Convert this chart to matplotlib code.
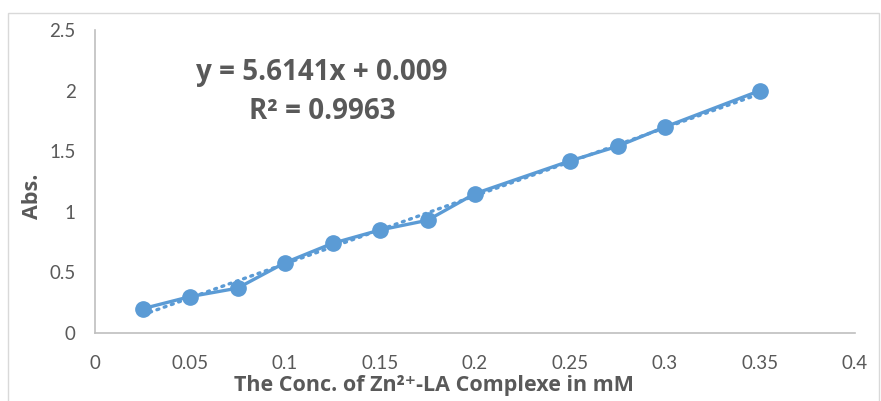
import matplotlib.pyplot as plt
from matplotlib.patches import Rectangle

# Absorbance vs. concentration of the Zn2+-LA complex
conc_mM = [0.025, 0.05, 0.075, 0.1, 0.125, 0.15, 0.175, 0.2, 0.25, 0.275, 0.3, 0.35]
absorbance = [0.20, 0.30, 0.37, 0.58, 0.74, 0.85, 0.93, 1.15, 1.42, 1.54, 1.70, 2.00]

slope = 5.6141
intercept = 0.009
r_squared = 0.9963

x_ticks = [0, 0.05, 0.1, 0.15, 0.2, 0.25, 0.3, 0.35, 0.4]
x_tick_labels = ['0', '0.05', '0.1', '0.15', '0.2', '0.25', '0.3', '0.35', '0.4']
y_ticks = [0, 0.5, 1, 1.5, 2, 2.5]
y_tick_labels = ['0', '0.5', '1', '1.5', '2', '2.5']

blue = '#5B9BD5'
grey_text = '#595959'
bold_family = ['Open Sans', 'DejaVu Sans']
plt.rcParams['font.family'] = ['Lato', 'DejaVu Sans']

fig = plt.figure(figsize=(8.81, 4.01), dpi=100)
ax = fig.add_axes([95 / 881, 68 / 401, 760 / 881, 303 / 401])

# chart area border
fig.patches.append(Rectangle((8 / 881, -0.05), 871 / 881, (401 - 13) / 401 + 0.05,
                             transform=fig.transFigure, fill=False,
                             edgecolor='#D9D9D9', linewidth=1.0))

ax.plot(conc_mM, absorbance, color=blue, linewidth=2.4, marker='o',
        markersize=11, zorder=3)

# linear trendline
trend_x = [conc_mM[0], conc_mM[-1]]
trend_y = [slope * v + intercept for v in trend_x]
ax.plot(trend_x, trend_y, color=blue, linewidth=2.4, linestyle=(0, (0.6, 1.7)),
        dash_capstyle='round', zorder=2)

ax.set_xlim(0, 0.4)
ax.set_ylim(0, 2.5)
ax.set_xticks(x_ticks)
ax.set_xticklabels(x_tick_labels)
ax.set_yticks(y_ticks)
ax.set_yticklabels(y_tick_labels)
ax.tick_params(length=0, labelsize=13.5, colors=grey_text)
ax.tick_params(axis='y', pad=14)
ax.tick_params(axis='x', pad=16)

for side in ('top', 'right'):
    ax.spines[side].set_visible(False)
for side in ('left', 'bottom'):
    ax.spines[side].set_color('#BFBFBF')
    ax.spines[side].set_linewidth(1.2)

ax.set_xlabel('The Conc. of Zn²⁺-LA Complexe in mM', fontsize=15.5,
              fontweight='bold', family=bold_family, color=grey_text)
ax.xaxis.set_label_coords((434 - 95) / 760, -(385 - 333) / 303)
ax.xaxis.label.set_va('center')
ax.set_ylabel('Abs.', fontsize=15.5, fontweight='bold', family=bold_family,
              color=grey_text)
ax.yaxis.set_label_coords(-(95 - 32) / 760, (333 - 196) / 303)
ax.yaxis.label.set_va('center')

fig.text(322 / 881, 1 - 92 / 401,
         f'y = {slope}x + {intercept}\nR² = {r_squared}',
         ha='center', va='center', fontsize=20, fontweight='bold',
         family=bold_family, color=grey_text, linespacing=1.42)

fig.savefig('out.png', dpi=100)
